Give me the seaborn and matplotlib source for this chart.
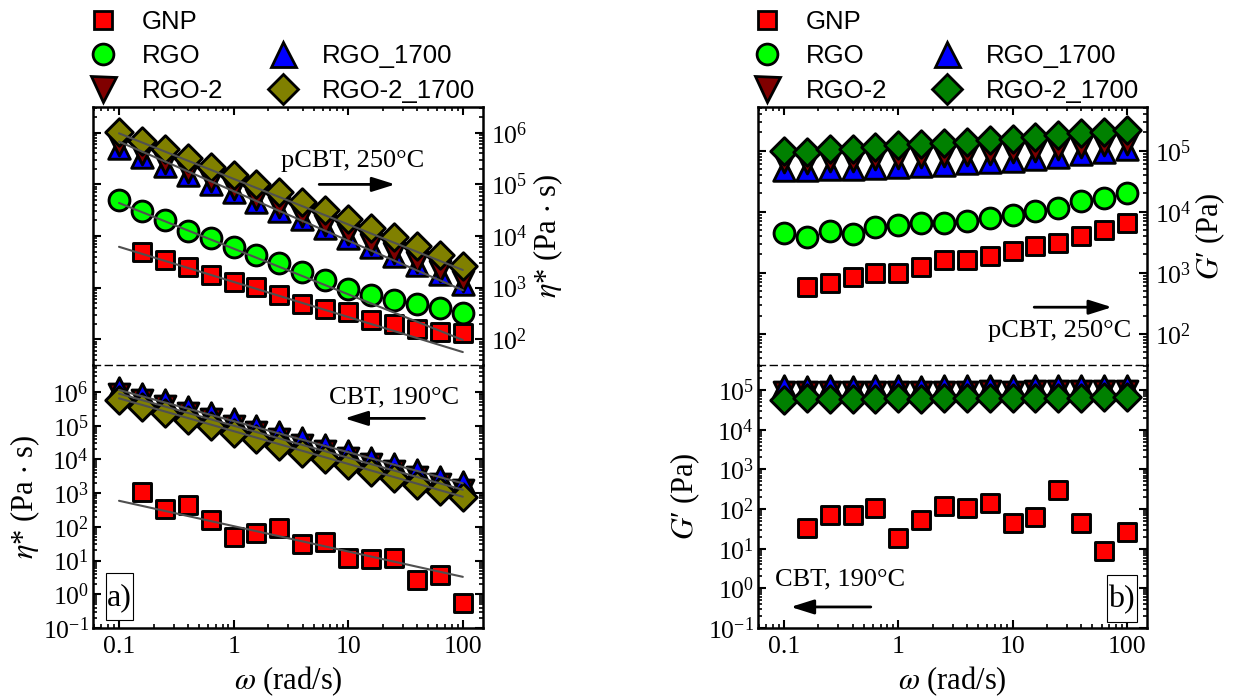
import numpy as np
import pandas as pd
import matplotlib
matplotlib.use("Agg")
import matplotlib.pyplot as plt
import seaborn as sns
from matplotlib.lines import Line2D
from matplotlib.patches import Rectangle
from matplotlib import ticker

# ---------------- data ----------------
omega = [0.1, 0.158, 0.251, 0.398, 0.631, 1.0, 1.58, 2.51, 3.98, 6.31,
         10.0, 15.8, 25.1, 39.8, 63.1, 100.0]
omega_gnp = [0.158, 0.251, 0.398, 0.631, 1.0, 1.58, 2.51, 3.98, 6.31,
             10.0, 15.8, 25.1, 39.8, 63.1, 100.0]
series_names = ["GNP", "RGO", "RGO_1700", "RGO-2", "RGO-2_1700"]

# panel a, top: eta* (Pa s), pCBT 250 C
eta250_gnp = [4.95e3, 3.42e3, 2.5e3, 1.75e3, 1.3e3, 1.04e3, 7.1e2, 4.9e2, 3.9e2,
              3.4e2, 2.34e2, 2.0e2, 1.6e2, 1.4e2, 1.3e2]
eta250_rgo = [5.0e4, 3.0e4, 2.05e4, 1.25e4, 9.0e3, 6.2e3, 4.3e3, 2.95e3, 2.0e3,
              1.4e3, 9.5e2, 7.3e2, 5.8e2, 4.8e2, 4.1e2, 3.2e2]
eta250_rgo1700 = [5.0e5, 3.4e5, 2.3e5, 1.5e5, 1.0e5, 7.0e4, 4.6e4, 3.1e4, 2.1e4,
                  1.4e4, 9.3e3, 6.2e3, 4.1e3, 2.7e3, 1.8e3, 1.15e3]
eta250_rgo2 = [5.8e5, 3.9e5, 2.65e5, 1.75e5, 1.15e5, 8.0e4, 5.3e4, 3.6e4, 2.4e4,
               1.6e4, 1.07e4, 7.1e3, 4.7e3, 3.1e3, 2.1e3, 1.35e3]
eta250_rgo21700 = [1.05e6, 7.0e5, 4.8e5, 3.3e5, 2.2e5, 1.5e5, 1.0e5, 7.0e4, 4.6e4,
                   3.2e4, 2.1e4, 1.4e4, 9.5e3, 6.3e3, 4.2e3, 2.6e3]

# panel a, bottom: eta* (Pa s), CBT 190 C
eta190_gnp = [1.1e3, 3.5e2, 4.4e2, 1.6e2, 51, 64, 91, 32, 36, 11.6, 10.8, 11.6,
              2.6, 3.7, 0.54]
eta190_rgo1700 = [1.35e6, 9.0e5, 5.8e5, 3.7e5, 2.4e5, 1.55e5, 1.0e5, 6.5e4, 4.2e4,
                  2.7e4, 1.75e4, 1.1e4, 7.3e3, 4.7e3, 3.0e3, 2.1e3]
eta190_rgo2 = [9.0e5, 5.9e5, 3.8e5, 2.4e5, 1.55e5, 1.0e5, 6.4e4, 4.1e4, 2.7e4,
               1.75e4, 1.1e4, 7.2e3, 4.6e3, 3.0e3, 1.9e3, 1.25e3]
eta190_rgo21700 = [5.8e5, 3.7e5, 2.4e5, 1.5e5, 9.7e4, 6.2e4, 4.0e4, 2.5e4, 1.6e4,
                   1.05e4, 6.7e3, 4.3e3, 2.8e3, 1.8e3, 1.15e3, 7.5e2]

# panel b, top: G' (Pa), pCBT 250 C
g250_gnp = [5.97e2, 6.8e2, 8.5e2, 9.9e2, 1.01e3, 1.27e3, 1.63e3, 1.63e3, 1.92e3,
            2.24e3, 2.77e3, 3.14e3, 4.05e3, 5.07e3, 6.5e3]
g250_rgo = [4.5e3, 3.9e3, 4.9e3, 4.4e3, 5.7e3, 6.1e3, 6.5e3, 6.5e3, 7.2e3, 7.9e3,
            8.9e3, 1.05e4, 1.15e4, 1.48e4, 1.7e4, 2.0e4]
g250_rgo1700 = [4.8e4, 4.8e4, 5.0e4, 5.1e4, 5.3e4, 5.5e4, 5.7e4, 5.9e4, 6.2e4,
                6.5e4, 6.9e4, 7.4e4, 8.0e4, 8.7e4, 9.5e4, 1.05e5]
g250_rgo2 = [6.5e4, 6.3e4, 6.7e4, 6.8e4, 7.2e4, 7.5e4, 7.8e4, 8.2e4, 8.5e4, 9.0e4,
             9.5e4, 1.0e5, 1.07e5, 1.15e5, 1.22e5, 1.3e5]
g250_rgo21700 = [9.8e4, 9.6e4, 1.05e5, 1.07e5, 1.15e5, 1.22e5, 1.28e5, 1.35e5,
                 1.4e5, 1.48e5, 1.58e5, 1.68e5, 1.8e5, 1.92e5, 2.05e5, 2.2e5]

# panel b, bottom: G' (Pa), CBT 190 C
g190_gnp = [33, 71, 71, 105, 18.4, 53, 120, 105, 145, 44, 64, 303, 45, 9.0, 27]
g190_rgo1700 = [1.25e5, 1.2e5, 1.25e5, 1.22e5, 1.24e5, 1.25e5, 1.23e5, 1.26e5,
                1.25e5, 1.27e5, 1.26e5, 1.28e5, 1.27e5, 1.29e5, 1.28e5, 1.3e5]
g190_rgo2 = [8.8e4, 9.0e4, 8.9e4, 9.0e4, 9.1e4, 9.0e4, 9.2e4, 9.1e4, 9.2e4, 9.3e4,
             9.2e4, 9.4e4, 9.3e4, 9.4e4, 9.5e4, 9.6e4]
g190_rgo21700 = [5.6e4, 6.2e4, 5.9e4, 6.1e4, 6.0e4, 6.2e4, 6.1e4, 6.2e4, 6.3e4,
                 6.3e4, 6.4e4, 6.4e4, 6.5e4, 6.5e4, 6.6e4, 6.8e4]

# power-law fits eta* = K * omega^n (panel a)
fit_range = [0.1, 100.0]
fit250_series = ["GNP", "RGO", "RGO_1700", "RGO-2_1700"]
fit250_K = [1.29e3, 5.69e3, 7.4e4, 1.28e5]
fit250_n = [-0.68, -0.885, -0.96, -0.883]
fit190_series = ["GNP", "RGO_1700", "RGO-2", "RGO-2_1700"]
fit190_K = [105.0, 1.37e5, 1.0e5, 6.9e4]
fit190_n = [-0.752, -0.923, -0.95, -0.973]

x_ticks = [0.1, 1, 10, 100]
x_ticklabels = ["0.1", "1", "10", "100"]

# ---------------- style ----------------
sns.set_style("ticks")
plt.rcParams.update({
    "font.family": ["Liberation Serif", "DejaVu Serif"],
    "mathtext.fontset": "stix",
    "text.color": "black",
    "axes.labelcolor": "black",
    "axes.edgecolor": "black",
    "xtick.color": "black",
    "ytick.color": "black",
    "axes.linewidth": 1.8,
    "xtick.direction": "in",
    "ytick.direction": "in",
    "xtick.major.size": 6, "ytick.major.size": 6,
    "xtick.minor.size": 3, "ytick.minor.size": 3,
    "xtick.major.width": 1.5, "ytick.major.width": 1.5,
    "xtick.minor.width": 1.2, "ytick.minor.width": 1.2,
    "xtick.labelsize": 18.5, "ytick.labelsize": 18.5,
})

markers = {"GNP": "s", "RGO": "o", "RGO_1700": "^", "RGO-2": "v", "RGO-2_1700": "D"}
msize = {"GNP": 13.5, "RGO": 15, "RGO_1700": 15.5, "RGO-2": 15, "RGO-2_1700": 14}
pal_a = {"GNP": "#FF0000", "RGO": "#00FF00", "RGO_1700": "#0000FF",
         "RGO-2": "#800000", "RGO-2_1700": "#808000"}
pal_b = dict(pal_a)
pal_b["RGO-2_1700"] = "#008000"
order_top = ["GNP", "RGO", "RGO_1700", "RGO-2", "RGO-2_1700"]
order_bottom = ["GNP", "RGO", "RGO-2", "RGO_1700", "RGO-2_1700"]

fig = plt.figure(figsize=(12.33, 6.98), dpi=100)
W, H = 1233, 698
def axes_px(x0, x1, y0, y1):
    return fig.add_axes([x0 / W, 1 - y1 / H, (x1 - x0) / W, (y1 - y0) / H])

ax_at = axes_px(93, 483, 107, 365)
ax_ab = axes_px(93, 483, 365, 628)
ax_bt = axes_px(758, 1147, 107, 365)
ax_bb = axes_px(758, 1147, 365, 628)

for ax in (ax_at, ax_ab, ax_bt, ax_bb):
    ax.set_xscale("log")
    ax.set_yscale("log")


def draw(ax, data, pal, order):
    for name in order:
        if name not in data:
            continue
        xs = omega_gnp if name == "GNP" else omega
        df = pd.DataFrame({"omega": xs, "value": data[name]})
        sns.scatterplot(data=df, x="omega", y="value", ax=ax, marker=markers[name],
                        s=msize[name] ** 2, color=pal[name], edgecolor="black",
                        linewidth=2.1, legend=False, zorder=3)


def draw_fits(ax, names, Ks, ns):
    for name, K, n in zip(names, Ks, ns):
        fx = np.array(fit_range)
        df = pd.DataFrame({"omega": fx, "value": K * fx ** n})
        sns.lineplot(data=df, x="omega", y="value", ax=ax, color="#505050",
                     linewidth=1.5, zorder=4, legend=False)


draw(ax_at, {"GNP": eta250_gnp, "RGO": eta250_rgo, "RGO_1700": eta250_rgo1700,
             "RGO-2": eta250_rgo2, "RGO-2_1700": eta250_rgo21700}, pal_a, order_top)
draw_fits(ax_at, fit250_series, fit250_K, fit250_n)
draw(ax_ab, {"GNP": eta190_gnp, "RGO_1700": eta190_rgo1700,
             "RGO-2": eta190_rgo2, "RGO-2_1700": eta190_rgo21700}, pal_a, order_bottom)
draw_fits(ax_ab, fit190_series, fit190_K, fit190_n)
draw(ax_bt, {"GNP": g250_gnp, "RGO": g250_rgo, "RGO_1700": g250_rgo1700,
             "RGO-2": g250_rgo2, "RGO-2_1700": g250_rgo21700}, pal_b, order_top)
draw(ax_bb, {"GNP": g190_gnp, "RGO_1700": g190_rgo1700,
             "RGO-2": g190_rgo2, "RGO-2_1700": g190_rgo21700}, pal_b, order_bottom)

ax_at.set_ylim(10 ** 1.5, 10 ** 6.5)
ax_ab.set_ylim(0.1, 10 ** 6.8)
ax_bt.set_ylim(31, 5.2e5)
ax_bb.set_ylim(0.1, 4.3e5)

for ax in (ax_at, ax_ab, ax_bt, ax_bb):
    ax.set_xlim(0.0593, 150)
    ax.xaxis.set_major_locator(ticker.FixedLocator(x_ticks))
    ax.xaxis.set_major_formatter(ticker.FixedFormatter(x_ticklabels))
    ax.xaxis.set_minor_locator(ticker.LogLocator(base=10, subs=np.arange(2, 10), numticks=20))
    ax.xaxis.set_minor_formatter(ticker.NullFormatter())
    ax.yaxis.set_major_locator(ticker.LogLocator(base=10, numticks=20))
    ax.yaxis.set_minor_locator(ticker.LogLocator(base=10, subs=np.arange(2, 10), numticks=20))
    ax.yaxis.set_minor_formatter(ticker.NullFormatter())
    ax.set_xlabel("")
    ax.set_ylabel("")
    for sp in ax.spines.values():
        sp.set_linewidth(1.8)
        sp.set_edgecolor("black")
        sp.set_visible(True)

for ax in (ax_at, ax_bt):
    ax.spines["bottom"].set_visible(False)
    ax.tick_params(which="both", top=True, bottom=False, left=True, right=True,
                   labelbottom=False, labelleft=False, labelright=True, pad=6)
    ax.yaxis.set_label_position("right")

for ax in (ax_ab, ax_bb):
    ax.spines["top"].set_linestyle((0, (5, 3.5)))
    ax.spines["top"].set_linewidth(1.0)
    ax.tick_params(which="both", top=False, bottom=True, left=True, right=True,
                   labelbottom=True, labelleft=True, labelright=False)
    ax.tick_params(axis="y", pad=3)
    ax.tick_params(axis="x", pad=6)

lab_fs = 22
eta_label = r"$\eta$* (Pa $\cdot$ s)"
g_label = r"$G$′ (Pa)"
w_label = r"$\omega$ (rad/s)"
ax_at.set_ylabel(eta_label, fontsize=lab_fs)
ax_at.yaxis.set_label_coords(1.125, 0.5)
ax_ab.set_ylabel(eta_label, fontsize=lab_fs)
ax_ab.yaxis.set_label_coords(-0.13, 0.5)
ax_bt.set_ylabel(g_label, fontsize=lab_fs)
ax_bt.yaxis.set_label_coords(1.12, 0.5)
ax_bb.set_ylabel(g_label, fontsize=lab_fs)
ax_bb.yaxis.set_label_coords(-0.145, 0.5)
for ax in (ax_ab, ax_bb):
    ax.set_xlabel(w_label, fontsize=lab_fs)
    ax.xaxis.set_label_coords(0.5, -0.14)

# annotations
ann_fs = 19
arrow_kw = dict(arrowstyle="-|>,head_length=0.7,head_width=0.22", lw=2,
                color="black", mutation_scale=20, shrinkA=0, shrinkB=0)
ax_at.text(0.665, 0.79, "pCBT, 250°C", transform=ax_at.transAxes, fontsize=ann_fs,
           ha="center", va="center")
ax_at.annotate("", xy=(0.775, 0.70), xytext=(0.58, 0.70), xycoords="axes fraction",
               arrowprops=arrow_kw)
ax_ab.text(0.772, 0.875, "CBT, 190°C", transform=ax_ab.transAxes, fontsize=ann_fs,
           ha="center", va="center")
ax_ab.annotate("", xy=(0.645, 0.797), xytext=(0.85, 0.797), xycoords="axes fraction",
               arrowprops=arrow_kw)
ax_bt.text(0.775, 0.13, "pCBT, 250°C", transform=ax_bt.transAxes, fontsize=ann_fs,
           ha="center", va="center")
ax_bt.annotate("", xy=(0.91, 0.224), xytext=(0.71, 0.224), xycoords="axes fraction",
               arrowprops=arrow_kw)
ax_bb.text(0.212, 0.184, "CBT, 190°C", transform=ax_bb.transAxes, fontsize=ann_fs,
           ha="center", va="center")
ax_bb.annotate("", xy=(0.084, 0.08), xytext=(0.29, 0.08), xycoords="axes fraction",
               arrowprops=arrow_kw)

# panel letters in tall boxes
for ax, lab, box, ctr in ((ax_ab, "a)", (0.033, 0.030, 0.070, 0.179), (0.068, 0.115)),
                          (ax_bb, "b)", (0.897, 0.023, 0.077, 0.179), (0.935, 0.108))):
    ax.add_patch(Rectangle(box[:2], box[2], box[3], transform=ax.transAxes,
                           fill=True, fc="white", ec="black", lw=0.8, zorder=5))
    ax.text(ctr[0], ctr[1], lab, transform=ax.transAxes, fontsize=23,
            ha="center", va="center", zorder=6)

# legends
leg_ms = {"GNP": 13, "RGO": 15, "RGO_1700": 18, "RGO-2": 18, "RGO-2_1700": 15}
def make_legend(pal, x_px):
    order = ["GNP", "RGO", "RGO-2", None, "RGO_1700", "RGO-2_1700"]
    handles, labels = [], []
    for name in order:
        if name is None:
            handles.append(Line2D([], [], ls="none", marker=None))
            labels.append("")
        else:
            handles.append(Line2D([], [], ls="none", marker=markers[name],
                                  markersize=leg_ms[name], markerfacecolor=pal[name],
                                  markeredgecolor="black", markeredgewidth=2.0))
            labels.append(name)
    fig.legend(handles, labels, ncol=2, loc="upper left",
               bbox_to_anchor=(x_px / W, 1 - 10 / H), frameon=False,
               prop={"family": "Liberation Sans", "size": 18.5},
               handlelength=1.0, handletextpad=1.0, columnspacing=1.85,
               labelspacing=0.40, borderpad=0, borderaxespad=0)

make_legend(pal_a, 90)
make_legend(pal_b, 754)

fig.savefig("out.png", dpi=100)
